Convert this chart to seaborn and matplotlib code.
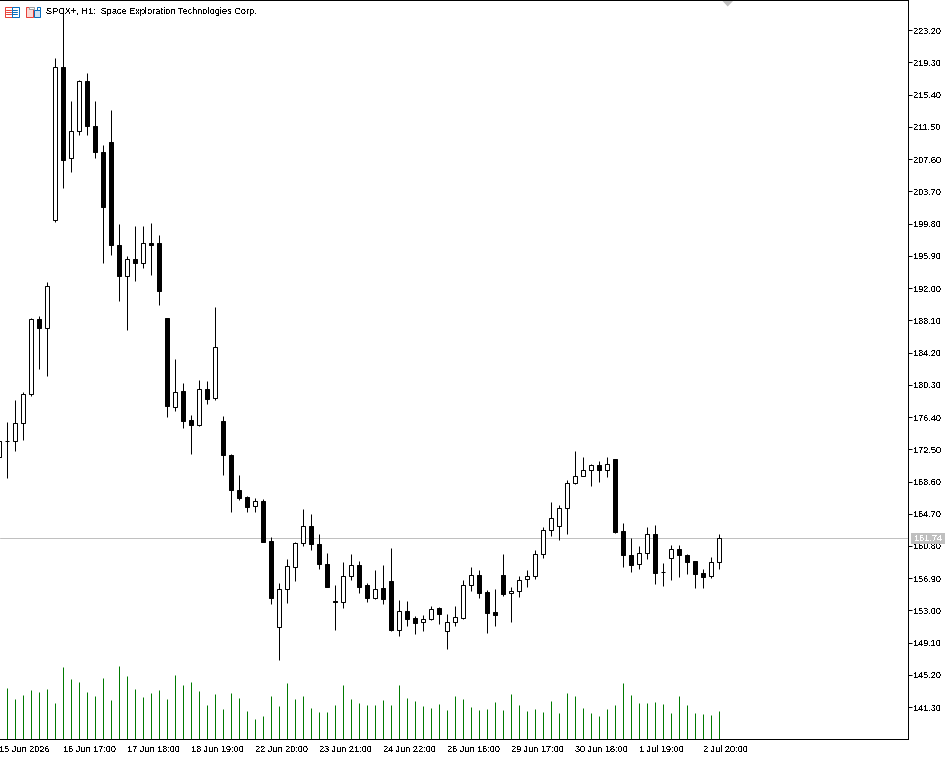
import matplotlib
matplotlib.use("Agg")
import matplotlib.pyplot as plt
from matplotlib.patches import Rectangle, Polygon
from matplotlib.transforms import Affine2D
import numpy as np
import pandas as pd
import seaborn as sns

# Hourly SPCX+ session bars, oldest first (the first bar sits at the left edge).
bars = list(range(-1, 90))
opens = [171.62, 173.52, 173.47, 175.65, 179.16, 188.28, 187.14, 200.21, 218.77, 207.71,
         210.98, 217.07, 211.63, 208.52, 209.69, 197.27, 193.43, 195.54, 195.01, 197.48,
         197.51, 188.44, 177.59, 179.49, 176.10, 175.49, 179.85, 178.68, 175.98, 171.86,
         167.63, 166.74, 165.61, 166.30, 161.46, 150.97, 155.57, 158.23, 161.13, 163.27,
         161.10, 158.68, 154.20, 153.99, 157.14, 158.56, 156.02, 154.56, 155.66, 156.62,
         150.61, 152.99, 152.14, 151.57, 151.94, 153.35, 150.49, 151.57, 152.14, 156.05,
         157.35, 155.29, 152.87, 157.35, 155.08, 155.32, 156.78, 157.14, 159.80, 162.70,
         163.19, 165.37, 168.39, 169.24, 169.96, 170.62, 169.96, 171.38, 162.63, 159.73,
         158.59, 159.92, 162.31, 157.67, 159.32, 160.49, 159.73, 159.04, 157.59, 157.14,
         158.83]
highs = [173.70, 175.74, 178.40, 179.45, 188.32, 188.68, 192.79, 219.89, 225.94, 214.69,
         217.23, 217.96, 214.69, 209.25, 213.60, 199.81, 195.94, 199.57, 199.57, 199.93,
         198.48, 188.44, 183.48, 180.54, 176.70, 180.82, 180.70, 189.77, 176.58, 171.98,
         169.44, 166.82, 166.62, 166.51, 161.91, 156.38, 159.28, 161.30, 165.33, 164.61,
         162.31, 160.01, 156.14, 158.92, 159.77, 159.04, 156.38, 157.95, 158.44, 160.61,
         154.32, 154.20, 152.38, 152.51, 153.51, 153.47, 152.63, 153.60, 156.70, 158.31,
         157.95, 155.53, 155.65, 159.89, 155.89, 157.22, 157.95, 160.37, 163.15, 166.18,
         165.81, 168.84, 172.35, 171.62, 170.74, 171.10, 171.62, 171.38, 163.52, 161.82,
         160.85, 163.15, 163.39, 158.80, 160.97, 160.97, 159.89, 159.04, 158.07, 159.52,
         162.19]
lows = [171.62, 169.08, 172.35, 173.68, 178.92, 182.27, 181.42, 199.97, 204.08, 206.02,
        210.46, 210.46, 207.71, 195.01, 196.06, 190.41, 186.90, 192.91, 194.37, 193.64,
        190.01, 176.46, 177.07, 175.13, 171.98, 175.37, 178.03, 178.40, 169.44, 164.97,
        166.42, 164.88, 164.88, 161.34, 153.84, 146.98, 153.96, 156.62, 160.85, 160.37,
        158.07, 155.89, 150.69, 153.35, 156.74, 155.17, 154.08, 154.44, 153.84, 150.57,
        149.97, 151.06, 150.21, 150.57, 151.82, 151.42, 148.39, 151.06, 152.02, 155.41,
        154.56, 150.33, 151.18, 154.72, 151.66, 154.68, 155.89, 156.86, 159.40, 162.06,
        161.58, 162.31, 168.24, 169.24, 168.00, 168.60, 169.20, 162.43, 158.31, 157.71,
        158.07, 159.28, 156.26, 156.01, 156.74, 157.10, 157.47, 155.77, 155.77, 156.98,
        158.07]
closes = [173.56, 173.56, 175.70, 179.21, 188.28, 187.14, 192.27, 218.77, 207.55, 211.03,
          217.07, 211.58, 208.43, 201.78, 197.19, 193.43, 195.54, 195.01, 197.48, 197.27,
          191.70, 177.71, 179.45, 175.98, 175.49, 179.81, 178.64, 184.93, 171.86, 167.54,
          166.66, 165.57, 166.26, 161.34, 154.56, 155.62, 158.40, 161.18, 163.24, 160.98,
          158.68, 155.89, 153.99, 157.19, 158.52, 155.89, 154.56, 155.62, 154.44, 150.69,
          152.95, 152.02, 151.54, 151.98, 153.20, 152.63, 151.62, 152.23, 156.10, 157.31,
          155.17, 152.75, 152.51, 155.05, 155.37, 156.70, 157.19, 159.85, 162.75, 164.20,
          165.42, 168.44, 169.29, 170.01, 170.62, 169.96, 170.74, 162.55, 159.65, 158.56,
          159.97, 162.27, 157.59, 157.63, 160.45, 159.65, 158.92, 157.47, 157.10, 158.88,
          161.74]
volume_bars = list(range(0, 90))
tick_volumes = [154, 121, 133, 148, 142, 151, 109, 217, 181, 172,
                142, 130, 184, 118, 220, 190, 151, 127, 139, 148,
                121, 193, 163, 172, 145, 103, 136, 91, 139, 124,
                85, 61, 70, 130, 100, 169, 121, 130, 94, 82,
                82, 103, 163, 121, 109, 103, 103, 118, 103, 163,
                124, 115, 100, 94, 106, 88, 130, 121, 97, 88,
                91, 112, 88, 136, 103, 85, 91, 82, 115, 79,
                139, 130, 94, 79, 70, 91, 103, 169, 133, 109,
                109, 112, 106, 79, 130, 103, 79, 76, 73, 85]

price_ticks = [223.20, 219.30, 215.40, 211.50, 207.60, 203.70, 199.80, 195.90, 192.00, 188.10, 184.20,
               180.30, 176.40, 172.50, 168.60, 164.70, 160.80, 156.90, 153.00, 149.10, 145.20, 141.30]
time_ticks = [7, 15, 23, 31, 39, 47, 55, 63, 71, 79, 87]
time_labels = ["16 Jun 17:00", "17 Jun 18:00", "18 Jun 19:00", "22 Jun 20:00", "23 Jun 21:00",
               "24 Jun 22:00", "26 Jun 16:00", "29 Jun 17:00", "30 Jun 18:00", "1 Jul 19:00", "2 Jul 20:00"]
first_label = "15 Jun 2026"
last_price = 161.74
chart_title = "SPCX+, H1:  Space Exploration Technologies Corp."

WIDTH, HEIGHT = 951, 759
PX = 72 / 100  # one device pixel in points

sns.set_theme(style="white")
plt.rcParams["font.family"] = ["Liberation Sans", "DejaVu Sans"]
plt.rcParams["text.antialiased"] = False
FONT = 6.6

fig = plt.figure(figsize=(WIDTH / 100, HEIGHT / 100), dpi=100, facecolor="white")
ax = fig.add_axes([0, 1 - 739 / HEIGHT, 908 / WIDTH, 739 / HEIGHT])
ax.set_xlim(-0.9125, 112.59)
ax.set_ylim(137.45, 226.85)

# High-low wicks, one vertical segment per bar
wicks = pd.DataFrame({
    "bar": np.repeat(bars, 2),
    "price": np.column_stack([lows, highs]).ravel(),
})
sns.lineplot(data=wicks, x="bar", y="price", units="bar", estimator=None, sort=False,
             color="black", linewidth=PX, solid_capstyle="butt", legend=False, ax=ax, zorder=2)

# Candle bodies: hollow when the bar closed up, solid when it closed down
o, c = np.array(opens), np.array(closes)
ax.bar(bars, np.abs(c - o), bottom=np.minimum(o, c), width=0.5,
       color=["white" if up else "black" for up in c >= o],
       edgecolor="black", linewidth=PX, zorder=3)

# Last-price line
ax.axhline(last_price, color="#C0C0C0", linewidth=PX, zorder=1)

# Tick volume sits on its own hidden scale along the bottom edge
ax_vol = ax.twinx()
ax_vol.set_ylim(0, 739 * 3)
volumes = pd.DataFrame({
    "bar": np.repeat(volume_bars, 2),
    "volume": np.column_stack([np.zeros(len(tick_volumes)), tick_volumes]).ravel(),
})
sns.lineplot(data=volumes, x="bar", y="volume", units="bar", estimator=None, sort=False,
             color="#007A00", linewidth=PX, solid_capstyle="butt", legend=False, ax=ax_vol)
ax_vol.set_axis_off()

# Axes furniture
for side in ["top", "right", "bottom"]:
    ax.spines[side].set_color("black")
    ax.spines[side].set_linewidth(PX)
ax.spines["left"].set_visible(False)
ax.set_xlabel("")
ax.set_ylabel("")
ax.yaxis.tick_right()
ax.set_yticks(price_ticks, [f"{v:.2f}" for v in price_ticks])
ax.set_xticks(time_ticks, time_labels, ha="left")
ax.tick_params(axis="y", length=3, width=PX, color="black", pad=1.2, labelsize=FONT, labelcolor="black")
ax.tick_params(axis="x", length=3, width=PX, color="black", pad=1.6, labelsize=FONT, labelcolor="black")
ax.grid(False)

px = Affine2D().scale(1, -1).translate(0, HEIGHT)  # device pixels, measured from the top-left
fig.text(-0.8, 749.7, first_label, transform=px, fontsize=FONT, color="black", ha="left", va="center")
fig.text(45.7, 12, chart_title, transform=px, fontsize=FONT, color="black", ha="left", va="center", zorder=6)

# Last-price badge on the price scale
fig.add_artist(Rectangle((911, 533), 34, 10.5, transform=px, facecolor="#C0C0C0", edgecolor="none", zorder=5))
fig.text(928, 538.6, f"{last_price:.2f}", transform=px, fontsize=FONT, color="white",
         ha="center", va="center", zorder=6)

# Chart-shift marker under the top edge
fig.add_artist(Polygon([(722.5, 1), (733, 1), (727.7, 6.5)], closed=True, transform=px,
                       facecolor="#C0C0C0", edgecolor="none", zorder=5))

# Terminal toolbar glyphs beside the symbol name
RED, BLUE = "#E8423A", "#0A6EBD"
def box(x, y, w, h, edge, face="white"):
    fig.add_artist(Rectangle((x, y), w, h, transform=px, facecolor=face, edgecolor=edge,
                             linewidth=PX, zorder=5))
def rule(x0, x1, y, colour):
    fig.add_artist(plt.Line2D([x0, x1], [y, y], transform=px, color=colour, linewidth=PX, zorder=6))

box(4.5, 6.5, 7, 10, RED)
box(11.5, 6.5, 7, 10, BLUE)
for y in (9.5, 11.5, 13.5):
    rule(6, 11, y, RED)
    rule(12, 17, y, BLUE)
box(25.5, 6.5, 7, 10, RED, "#FBD9D5")
box(33.5, 9.5, 6, 7, BLUE, "#CFE3F5")
box(28.5, 6.5, 5, 2.5, "#A0A0A0")
box(36.5, 6.5, 3, 3, BLUE)

fig.savefig("out.png", dpi=100, facecolor="white")
